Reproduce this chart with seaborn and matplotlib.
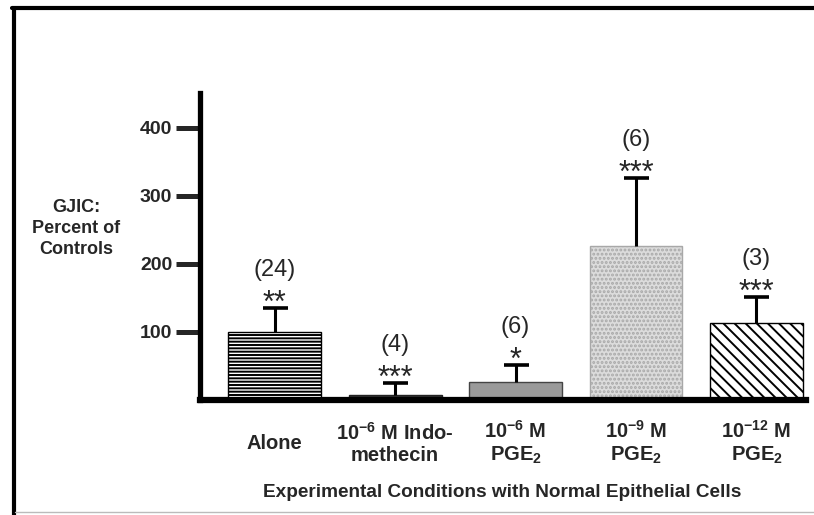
import matplotlib
matplotlib.use("Agg")
import matplotlib.pyplot as plt
from matplotlib.lines import Line2D
import numpy as np
import pandas as pd
import seaborn as sns

# data
conditions = ["Alone", "Indomethecin 1e-6", "PGE2 1e-6", "PGE2 1e-9", "PGE2 1e-12"]
tick_labels = [
    "Alone",
    r"10$^{\mathbf{-6}}$ M Indo-" + "\nmethecin",
    r"10$^{\mathbf{-6}}$ M" + "\n" + r"PGE$_{\mathbf{2}}$",
    r"10$^{\mathbf{-9}}$ M" + "\n" + r"PGE$_{\mathbf{2}}$",
    r"10$^{\mathbf{-12}}$ M" + "\n" + r"PGE$_{\mathbf{2}}$",
]
gjic_pct = [100, 7, 27, 226, 113]
sem = [35, 18, 25, 100, 38]
n_counts = ["(24)", "(4)", "(6)", "(6)", "(3)"]
stars = ["**", "***", "*", "***", "***"]

face_colors = ["white", "#353535", "#9a9a9a", "#dcdcdc", "white"]
hatches = ["-----", None, None, "....", "\\\\\\"]
edge_colors = ["black", "#222222", "#444444", "#a8a8a8", "black"]

sns.set_style("white")
plt.rcParams["font.family"] = ["Liberation Sans", "DejaVu Sans"]
plt.rcParams["mathtext.fontset"] = "custom"
plt.rcParams["mathtext.rm"] = "Liberation Sans:bold"
plt.rcParams["mathtext.bf"] = "Liberation Sans:bold"
plt.rcParams["mathtext.it"] = "Liberation Sans:bold"
plt.rcParams["hatch.linewidth"] = 1.4

df = pd.DataFrame({"condition": conditions, "gjic": gjic_pct})

fig = plt.figure(figsize=(8.14, 5.15), dpi=100)
ax = fig.add_axes([0.2457, 0.2233, 0.7443, 0.5961])

sns.barplot(data=df, x="condition", y="gjic", hue="condition",
            palette=dict(zip(conditions, face_colors)), legend=False,
            width=0.77, ax=ax, saturation=1)

for patch, fc, ec, h in zip(ax.patches, face_colors, edge_colors, hatches):
    patch.set_facecolor(fc)
    patch.set_edgecolor(ec)
    patch.set_linewidth(1.0)
    if h:
        patch.set_hatch(h)

x = np.arange(len(conditions))
vals = np.array(gjic_pct)
errs = np.array(sem)
# upper error bars only, caps drawn separately so no cap sits on the bar top
ax.errorbar(x, vals, yerr=[np.zeros_like(errs), errs], fmt="none",
            ecolor="black", elinewidth=2.2, capsize=0, zorder=1)
ax.plot(x, vals + errs, ls="none", marker="_", ms=18, mew=2.6,
        color="black", zorder=3)

for xi, top, n, s in zip(x, vals + errs, n_counts, stars):
    ax.annotate(s, (xi, top), xytext=(0, -3), textcoords="offset points",
                ha="center", va="baseline", fontsize=22)
    ax.annotate(n, (xi, top), xytext=(0, 23), textcoords="offset points",
                ha="center", va="baseline", fontsize=17)

ax.set_xlim(-0.62, 4.41)
ax.set_ylim(0, 451)
ax.set_yticks([100, 200, 300, 400])
ax.set_yticklabels(["100", "200", "300", "400"], fontweight="bold", fontsize=14)
ax.set_xticks(x)
ax.set_xticklabels(tick_labels, fontweight="bold", fontsize=14.5,
                   linespacing=1.15, va="center")
ax.tick_params(axis="y", length=17, width=3.6, pad=3, left=True)
ax.tick_params(axis="x", length=0, pad=31)
ax.set_xlabel("")
ax.set_ylabel("")

for side in ["top", "right"]:
    ax.spines[side].set_visible(False)
ax.spines["left"].set_linewidth(3.8)
ax.spines["bottom"].set_linewidth(4.5)
ax.spines["left"].set_color("black")
ax.spines["bottom"].set_color("black")

fig.text(0.094, 0.557, "GJIC:\nPercent of\nControls", ha="center", va="center",
         fontsize=13, fontweight="bold", linespacing=1.3)
fig.text(0.617, 0.044, "Experimental Conditions with Normal Epithelial Cells",
         ha="center", va="center", fontsize=13.7, fontweight="bold")

# frame around the figure as in the scanned original
fig.add_artist(Line2D([0.0166, 0.0166], [0.0, 0.9835], transform=fig.transFigure,
                      color="black", lw=3))
fig.add_artist(Line2D([0.0148, 1.0], [0.9835, 0.9835], transform=fig.transFigure,
                      color="black", lw=3))
fig.add_artist(Line2D([0.019, 1.0], [0.005, 0.005], transform=fig.transFigure,
                      color="#bbbbbb", lw=1))

fig.savefig("out.png", dpi=100)
